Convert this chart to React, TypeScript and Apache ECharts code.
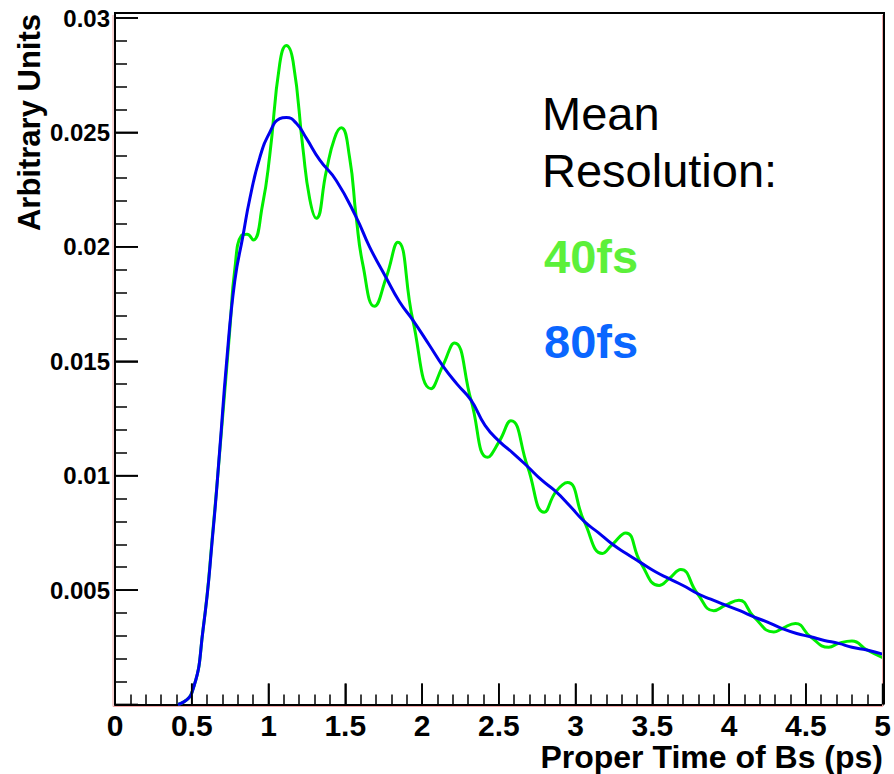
import React, { useEffect, useRef } from "react";
import * as echarts from "echarts";

// ---- data ----
const greenTime = [
  0.41, 0.5, 0.574, 0.639, 0.694, 0.748, 0.78, 0.824, 0.86, 0.9, 0.96, 1.008, 1.073, 1.116, 1.16,
  1.224, 1.268, 1.311, 1.376, 1.43, 1.474, 1.528, 1.571, 1.615, 1.69, 1.766, 1.842, 1.94,
  2.059, 2.135, 2.211, 2.319, 2.427, 2.503, 2.579, 2.687, 2.796, 2.872, 2.947, 3.056, 3.175,
  3.24, 3.327, 3.424, 3.544, 3.609, 3.685, 3.793, 3.9, 3.977, 4.064, 4.161, 4.291, 4.345,
  4.432, 4.53, 4.649, 4.714, 4.8, 4.898, 5.0,
];
const greenValue = [
  0.0, 0.0005, 0.0033, 0.0077, 0.012, 0.0164, 0.019, 0.0205, 0.02055, 0.0203, 0.0218, 0.024,
  0.028, 0.0288, 0.0281, 0.0243, 0.0221, 0.02125, 0.0233, 0.02475, 0.0252, 0.0239, 0.0213,
  0.0192, 0.0174, 0.01865, 0.0202, 0.0168, 0.0138, 0.0148, 0.0158, 0.0133, 0.0108, 0.0115,
  0.0124, 0.0104, 0.0084, 0.0093, 0.0097, 0.008, 0.0066, 0.007, 0.0075, 0.0062, 0.0052,
  0.0055, 0.0059, 0.00485, 0.0041, 0.00434, 0.00456, 0.00383, 0.00317, 0.00332, 0.00354,
  0.00296, 0.0025, 0.00267, 0.00277, 0.00238, 0.00205,
];
const blueTime = [
  0.41, 0.5, 0.574, 0.639, 0.683, 0.726, 0.78, 0.834, 0.878, 0.943, 1.008, 1.073, 1.116, 1.181,
  1.246, 1.333, 1.441, 1.571, 1.658, 1.766, 1.853, 1.94, 2.048, 2.135, 2.228, 2.319, 2.41,
  2.503, 2.59, 2.687, 2.78, 2.872, 2.96, 3.056, 3.15, 3.24, 3.33, 3.424, 3.52, 3.609, 3.7,
  3.793, 3.88, 3.977, 4.07, 4.161, 4.25, 4.345, 4.44, 4.53, 4.62, 4.714, 4.8, 4.898, 5.0,
];
const blueValue = [
  0.0, 0.0005, 0.0033, 0.0076, 0.0112, 0.0149, 0.0185, 0.0205, 0.0221, 0.0239, 0.025, 0.0256,
  0.02565, 0.0254, 0.02475, 0.0238, 0.0229, 0.0213, 0.02, 0.01865, 0.0176, 0.0168, 0.0157,
  0.0148, 0.014, 0.0133, 0.0122, 0.0115, 0.011, 0.0104, 0.0098, 0.0093, 0.0087, 0.008, 0.0075,
  0.007, 0.0066, 0.0062, 0.0058, 0.0055, 0.0052, 0.00485, 0.0046, 0.00434, 0.0041, 0.00383,
  0.0036, 0.00332, 0.0031, 0.00296, 0.0028, 0.00267, 0.0025, 0.00238, 0.0022,
];
const xMajorTicks = [0, 0.5, 1, 1.5, 2, 2.5, 3, 3.5, 4, 4.5, 5];
const yMajorTicks = [0, 0.005, 0.01, 0.015, 0.02, 0.025, 0.03];
const seriesNames = ["40fs", "80fs"];
const seriesColors = ["#00ee00", "#0000ee"];
const noteLines = ["Mean", "Resolution:"];
const noteColors = ["#5cf03a", "#0a66ff"];
const xTitle = "Proper Time of Bs (ps)";
const yTitle = "Arbitrary Units";

const FONT = "Liberation Sans, Arial, Helvetica, sans-serif";

export default function App() {
  const ref = useRef<HTMLDivElement>(null);
  useEffect(() => {
    if (!ref.current) return;
    const chart = echarts.init(ref.current, null, { renderer: "svg" });
    const green = greenTime.map((t, i) => [t, greenValue[i]]);
    const blue = blueTime.map((t, i) => [t, blueValue[i]]);
    const L = 115, T = 13, R = 884, B = 704.5;
    chart.setOption({
      animation: false,
      backgroundColor: "#ffffff",
      grid: { left: L, top: 18, right: 894 - R, bottom: 774 - B, containLabel: false },
      xAxis: {
        type: "value",
        min: 0,
        max: 5,
        interval: 0.5,
        axisLine: { show: true, onZero: false, lineStyle: { color: "#000", width: 2 } },
        axisTick: { show: true, inside: true, length: 21, lineStyle: { color: "#000", width: 1.6 } },
        minorTick: { show: true, splitNumber: 5, length: 10, lineStyle: { color: "#000", width: 1.5 } },
        axisLabel: {
          color: "#000",
          fontSize: 30,
          fontWeight: "bold",
          fontFamily: FONT,
          lineHeight: 24,
          margin: 9,
          formatter: (v: number) => String(v),
        },
        splitLine: { show: false },
      },
      yAxis: {
        type: "value",
        min: 0,
        max: 0.03,
        interval: 0.005,
        axisLine: { show: true, onZero: false, lineStyle: { color: "#000", width: 2 } },
        axisTick: { show: true, inside: true, length: 23, lineStyle: { color: "#000", width: 1.6 } },
        minorTick: { show: true, splitNumber: 5, length: 12, lineStyle: { color: "#000", width: 1.5 } },
        axisLabel: {
          color: "#000",
          fontSize: 24,
          fontWeight: "bold",
          fontFamily: FONT,
          margin: 5,
          formatter: (v: number) => (v === 0 ? "" : String(Math.round(v * 1000) / 1000)),
        },
        splitLine: { show: false },
      },
      series: [
        {
          name: seriesNames[0],
          type: "line",
          data: green,
          showSymbol: false,
          smooth: 0.5,
          lineStyle: { color: seriesColors[0], width: 3 },
          z: 2,
        },
        {
          name: seriesNames[1],
          type: "line",
          data: blue,
          showSymbol: false,
          smooth: 0.5,
          lineStyle: { color: seriesColors[1], width: 3 },
          z: 3,
        },
      ],
    });

    // major ticks positioned through the chart's own scales
    const tickLines: any[] = [];
    xMajorTicks.forEach((v) => {
      const p = chart.convertToPixel({ gridIndex: 0 }, [v, 0]) as number[];
      tickLines.push({
        type: "line",
        shape: { x1: p[0], y1: p[1], x2: p[0], y2: p[1] - 21 },
        style: { stroke: "#000", lineWidth: 1.7 },
        z: 11,
      });
    });
    yMajorTicks.forEach((v) => {
      const p = chart.convertToPixel({ gridIndex: 0 }, [0, v]) as number[];
      tickLines.push({
        type: "line",
        shape: { x1: p[0], y1: p[1], x2: p[0] + 23, y2: p[1] },
        style: { stroke: "#000", lineWidth: 1.7 },
        z: 11,
      });
    });

    chart.setOption({
      graphic: [
        {
          type: "polyline",
          shape: { points: [[L, B], [L, T], [R, T], [R, B]] },
          style: { stroke: "#000", lineWidth: 2, fill: null },
          z: 10,
        },
        {
          type: "polyline",
          shape: { points: [[L - 2, T + 2], [L - 2, B + 2], [R - 1.5, B + 2], [R - 1.5, T + 2]] },
          style: { stroke: "#f2a8a8", lineWidth: 1, fill: null },
          z: 9,
        },
        ...tickLines,
        {
          type: "text",
          x: 542,
          y: 113,
          style: { text: noteLines[0], fill: "#000", font: `47px ${FONT}`, textAlign: "left", textVerticalAlign: "middle" },
          z: 20,
        },
        {
          type: "text",
          x: 542,
          y: 170,
          style: { text: noteLines[1], fill: "#000", font: `47px ${FONT}`, textAlign: "left", textVerticalAlign: "middle" },
          z: 20,
        },
        {
          type: "text",
          x: 544,
          y: 256,
          style: { text: seriesNames[0], fill: noteColors[0], font: `bold 47px ${FONT}`, textAlign: "left", textVerticalAlign: "middle" },
          z: 20,
        },
        {
          type: "text",
          x: 544,
          y: 341,
          style: { text: seriesNames[1], fill: noteColors[1], font: `bold 47px ${FONT}`, textAlign: "left", textVerticalAlign: "middle" },
          z: 20,
        },
        {
          type: "text",
          x: 883,
          y: 757,
          style: { text: xTitle, fill: "#000", font: `bold 32px ${FONT}`, lineHeight: 26, textAlign: "right", textVerticalAlign: "middle" },
          z: 20,
        },
        {
          type: "text",
          x: 29,
          y: 14,
          rotation: Math.PI / 2,
          style: { text: yTitle, fill: "#000", font: `bold 31px ${FONT}`, textAlign: "right", textVerticalAlign: "middle" },
          z: 20,
        },
      ],
    });
    return () => chart.dispose();
  }, []);
  return (
    <div
      ref={ref}
      style={{ position: "fixed", left: 0, top: 0, width: 894, height: 774, background: "#fff" }}
    />
  );
}
